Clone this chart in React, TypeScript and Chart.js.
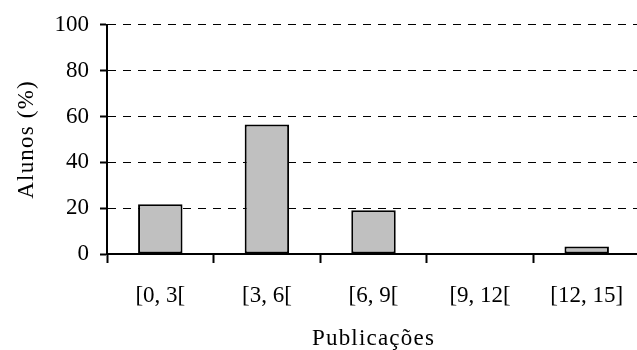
import React, { useEffect, useRef } from "react";
import { Chart, registerables } from "chart.js";

Chart.register(...registerables);

const categories = ["[0, 3[", "[3, 6[", "[6, 9[", "[9, 12[", "[12, 15]"];
const values = [21.7, 56.5, 19.1, 0, 3.3];
const yTicks = [0, 20, 40, 60, 80, 100];
const xTitle = "Publicações";
const yTitle = "Alunos (%)";

const FONT = "'Liberation Serif', 'Times New Roman', serif";

const titleSpacing = {
  id: "titleSpacing",
  afterLayout(chart: any) {
    Object.values(chart.scales).forEach((scale: any) => {
      if (scale.__patched) return;
      const orig = scale.drawTitle.bind(scale);
      scale.drawTitle = function () {
        const ctx = chart.ctx;
        ctx.save();
        try {
          (ctx as any).letterSpacing = "1.2px";
        } catch (e) {}
        orig();
        ctx.restore();
      };
      scale.__patched = true;
    });
  },
};

export default function App() {
  const ref = useRef<HTMLCanvasElement | null>(null);
  useEffect(() => {
    if (!ref.current) return;
    const chart = new Chart(ref.current, {
      type: "bar",
      data: {
        labels: categories,
        datasets: [
          {
            data: values,
            backgroundColor: "#c0c0c0",
            borderColor: "#000000",
            borderWidth: 2,
            borderSkipped: false,
            categoryPercentage: 1,
            barPercentage: 0.417,
          },
        ],
      },
      plugins: [titleSpacing],
      options: {
        animation: false,
        responsive: false,
        maintainAspectRatio: false,
        layout: { padding: { top: 11, right: 5, left: 0, bottom: 0 } },
        plugins: { legend: { display: false }, tooltip: { enabled: false } },
        scales: {
          x: {
            offset: true,
            afterFit: (axis: any) => {
              axis.height = 99;
            },
            grid: {
              display: true,
              drawOnChartArea: false,
              drawTicks: true,
              offset: true,
              tickLength: 9,
              tickColor: "#000",
              tickWidth: 2,
            },
            border: { display: true, color: "#000", width: 2 },
            ticks: {
              color: "#000",
              font: { family: FONT, size: 23 },
              padding: 19,
              maxRotation: 0,
            },
            title: {
              display: true,
              text: xTitle,
              color: "#000",
              font: { family: FONT, size: 23 },
              padding: { top: 0, bottom: 0 },
            },
          },
          y: {
            min: 0,
            max: 100,
            afterBuildTicks: (axis: any) => {
              axis.ticks = yTicks.map((v) => ({ value: v }));
            },
            afterFit: (axis: any) => {
              axis.width = 107;
            },
            grid: {
              color: "#000",
              lineWidth: 1,
              drawTicks: true,
              tickLength: 7,
              tickColor: "#000",
              tickWidth: 2,
              tickBorderDash: [],
            },
            border: { display: true, color: "#000", width: 2, dash: [8, 7] },
            ticks: {
              color: "#000",
              font: { family: FONT, size: 23 },
              padding: 11,
            },
            title: {
              display: true,
              text: yTitle,
              color: "#000",
              font: { family: FONT, size: 23 },
              padding: { top: 13, bottom: 0 },
            },
          },
        },
      },
    });
    return () => chart.destroy();
  }, []);
  return (
    <div
      style={{
        position: "fixed",
        left: 0,
        top: 0,
        width: 637,
        height: 350,
        overflow: "hidden",
        background: "#fff",
      }}
    >
      <canvas ref={ref} width={645} height={353} style={{ display: "block" }} />
    </div>
  );
}
